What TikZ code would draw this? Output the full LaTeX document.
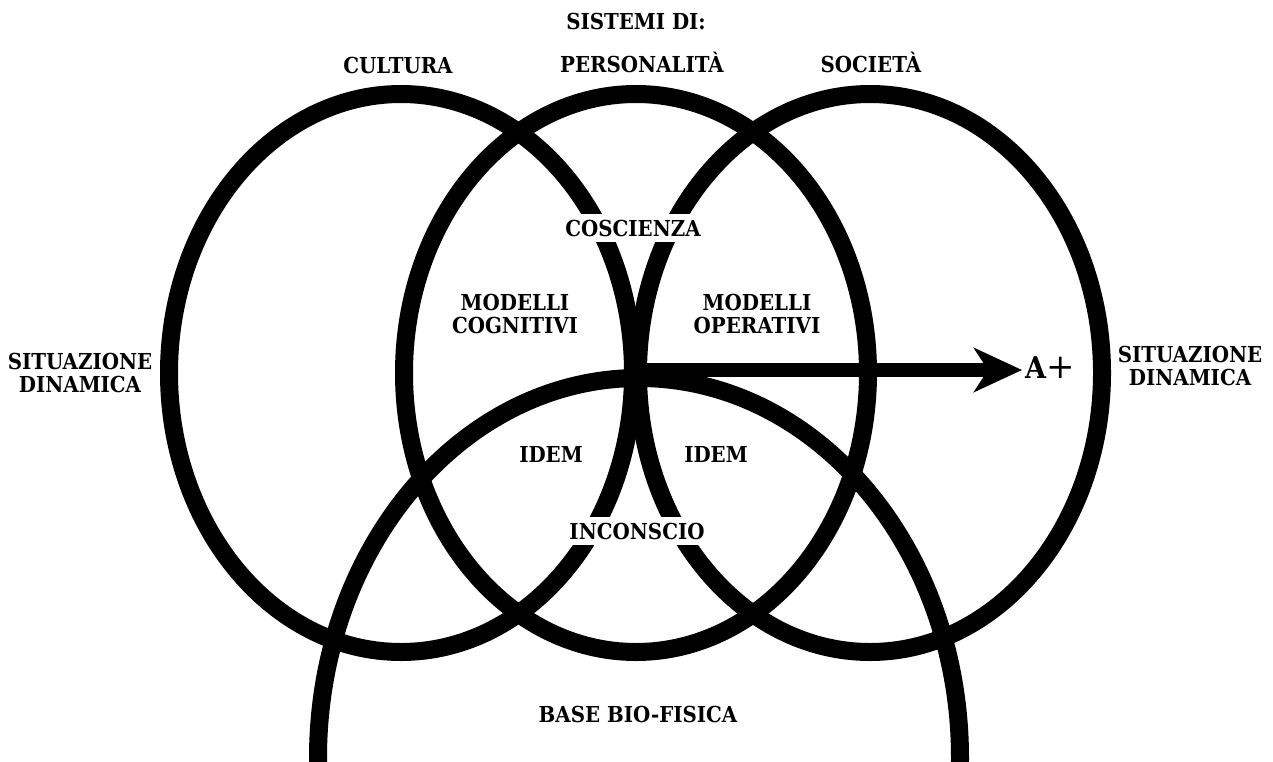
\documentclass[tikz,border=0pt]{standalone}
\usepackage{fontspec}
\newfontfamily\lab[FakeStretch=0.9]{DejaVu Serif}
\newfontfamily\plusfont{DejaVu Serif}
\usetikzlibrary{arrows.meta}
\begin{document}
\begin{tikzpicture}[x=1pt,y=-1pt,
  ring/.style={line width=18pt},
  lbl/.style={font=\lab\bfseries\fontsize{22}{23}\selectfont, align=center, inner sep=0pt},
  cut/.style={lbl, fill=white, inner xsep=3pt, inner ysep=6pt},
  arrowline/.style={line width=14pt, -{Stealth[length=48pt,width=44pt,inset=14pt]}},
]
\useasboundingbox (0,0) rectangle (1273,762);
\fill[white] (0,0) rectangle (1273,762);
\coordinate (cC) at (401,373);
\coordinate (cP) at (636,373);
\coordinate (cS) at (870,373);
\coordinate (cB) at (639,758);
\begin{scope}
  \clip (0,0) rectangle (1273,762);
  \draw[ring] (cC) ellipse [x radius=232, y radius=279];
  \draw[ring] (cP) ellipse [x radius=232, y radius=279];
  \draw[ring] (cS) ellipse [x radius=232, y radius=279];
  \draw[ring] (cB) ellipse [x radius=321, y radius=380];
\end{scope}
\coordinate (o) at (641,370);
\node[lbl, anchor=west, font=\lab\bfseries\fontsize{30}{30}\selectfont] (aplus) at (1025,368) {A{\plusfont\mdseries\fontsize{34}{34}\selectfont +}};
\draw[arrowline] (o) -- ([xshift=-3pt]o -| aplus.west);
\node[lbl] (sis) at (636,21) {SISTEMI DI:};
\node[lbl] (cul) at (398,65) {CULTURA};
\node[lbl] (per) at (642,62) {PERSONALITÀ};
\node[lbl] (soc) at (871,62) {SOCIETÀ};
\node[cut] (cos) at (633,228) {COSCIENZA};
\node[lbl] (mc) at (515,314) {MODELLI\\COGNITIVI};
\node[lbl] (mo) at (757,314) {MODELLI\\OPERATIVI};
\node[lbl] (sdl) at (80,373) {SITUAZIONE\\DINAMICA};
\node[lbl] (sdr) at (1190,366) {SITUAZIONE\\DINAMICA};
\node[lbl] (id1) at (551,454) {IDEM};
\node[lbl] (id2) at (716,454) {IDEM};
\node[cut] (inc) at (637,531) {INCONSCIO};
\node[lbl] (base) at (638,714) {BASE BIO-FISICA};
\end{tikzpicture}
\end{document}
